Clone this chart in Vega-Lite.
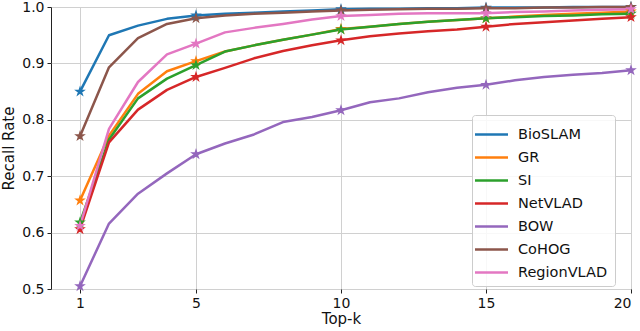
{
  "$schema": "https://vega.github.io/schema/vega-lite/v6.json",
  "width": 580,
  "height": 282,
  "autosize": {"type": "none"},
  "padding": {"left": 51, "top": 7, "right": 9, "bottom": 42},
  "background": "white",
  "config": {
    "font": "DejaVu Sans",
    "view": {"stroke": "#222", "strokeWidth": 1},
    "axis": {
      "gridColor": "#d0d0d0",
      "gridWidth": 1,
      "domain": false,
      "tickColor": "#222",
      "tickSize": 4,
      "labelPadding": 3,
      "labelFontSize": 14,
      "labelColor": "#111",
      "titleFontSize": 15,
      "titleFontWeight": "normal",
      "titleColor": "#111"
    }
  },
  "data": {
    "values": [
      {"k": 1, "BioSLAM": 0.850, "GR": 0.657, "SI": 0.618, "NetVLAD": 0.606, "BOW": 0.505, "CoHOG": 0.771, "RegionVLAD": 0.612},
      {"k": 2, "BioSLAM": 0.950, "GR": 0.772, "SI": 0.765, "NetVLAD": 0.760, "BOW": 0.616, "CoHOG": 0.893, "RegionVLAD": 0.784},
      {"k": 3, "BioSLAM": 0.967, "GR": 0.846, "SI": 0.838, "NetVLAD": 0.818, "BOW": 0.669, "CoHOG": 0.945, "RegionVLAD": 0.867},
      {"k": 4, "BioSLAM": 0.979, "GR": 0.886, "SI": 0.873, "NetVLAD": 0.853, "BOW": 0.705, "CoHOG": 0.970, "RegionVLAD": 0.916},
      {"k": 5, "BioSLAM": 0.985, "GR": 0.904, "SI": 0.897, "NetVLAD": 0.876, "BOW": 0.739, "CoHOG": 0.980, "RegionVLAD": 0.935},
      {"k": 6, "BioSLAM": 0.988, "GR": 0.921, "SI": 0.921, "NetVLAD": 0.892, "BOW": 0.758, "CoHOG": 0.985, "RegionVLAD": 0.955},
      {"k": 7, "BioSLAM": 0.990, "GR": 0.932, "SI": 0.932, "NetVLAD": 0.909, "BOW": 0.774, "CoHOG": 0.988, "RegionVLAD": 0.963},
      {"k": 8, "BioSLAM": 0.992, "GR": 0.942, "SI": 0.942, "NetVLAD": 0.922, "BOW": 0.796, "CoHOG": 0.990, "RegionVLAD": 0.970},
      {"k": 9, "BioSLAM": 0.994, "GR": 0.951, "SI": 0.951, "NetVLAD": 0.932, "BOW": 0.805, "CoHOG": 0.992, "RegionVLAD": 0.978},
      {"k": 10, "BioSLAM": 0.996, "GR": 0.961, "SI": 0.960, "NetVLAD": 0.941, "BOW": 0.817, "CoHOG": 0.994, "RegionVLAD": 0.984},
      {"k": 11, "BioSLAM": 0.997, "GR": 0.965, "SI": 0.965, "NetVLAD": 0.948, "BOW": 0.831, "CoHOG": 0.995, "RegionVLAD": 0.986},
      {"k": 12, "BioSLAM": 0.997, "GR": 0.970, "SI": 0.970, "NetVLAD": 0.953, "BOW": 0.838, "CoHOG": 0.996, "RegionVLAD": 0.988},
      {"k": 13, "BioSLAM": 0.998, "GR": 0.974, "SI": 0.974, "NetVLAD": 0.957, "BOW": 0.849, "CoHOG": 0.997, "RegionVLAD": 0.989},
      {"k": 14, "BioSLAM": 0.998, "GR": 0.977, "SI": 0.977, "NetVLAD": 0.960, "BOW": 0.857, "CoHOG": 0.997, "RegionVLAD": 0.989},
      {"k": 15, "BioSLAM": 0.999, "GR": 0.980, "SI": 0.980, "NetVLAD": 0.965, "BOW": 0.862, "CoHOG": 0.998, "RegionVLAD": 0.989},
      {"k": 16, "BioSLAM": 0.999, "GR": 0.983, "SI": 0.982, "NetVLAD": 0.970, "BOW": 0.870, "CoHOG": 0.998, "RegionVLAD": 0.991},
      {"k": 17, "BioSLAM": 0.999, "GR": 0.986, "SI": 0.984, "NetVLAD": 0.973, "BOW": 0.876, "CoHOG": 0.999, "RegionVLAD": 0.992},
      {"k": 18, "BioSLAM": 1.000, "GR": 0.988, "SI": 0.985, "NetVLAD": 0.976, "BOW": 0.880, "CoHOG": 0.999, "RegionVLAD": 0.994},
      {"k": 19, "BioSLAM": 1.000, "GR": 0.990, "SI": 0.987, "NetVLAD": 0.979, "BOW": 0.883, "CoHOG": 1.000, "RegionVLAD": 0.995},
      {"k": 20, "BioSLAM": 1.000, "GR": 0.992, "SI": 0.988, "NetVLAD": 0.982, "BOW": 0.888, "CoHOG": 1.000, "RegionVLAD": 0.996}
    ]
  },
  "transform": [
    {"fold": ["BioSLAM", "GR", "SI", "NetVLAD", "BOW", "CoHOG", "RegionVLAD"], "as": ["method", "recall"]}
  ],
  "encoding": {
    "x": {
      "field": "k", "type": "quantitative",
      "scale": {"domain": [0, 20], "nice": false, "zero": false},
      "axis": {"values": [1, 5, 10, 15, 20], "title": "Top-k", "titlePadding": 1}
    },
    "y": {
      "field": "recall", "type": "quantitative",
      "scale": {"domain": [0.5, 1.0], "nice": false, "zero": false},
      "axis": {"values": [0.5, 0.6, 0.7, 0.8, 0.9, 1.0], "format": ".1f", "title": "Recall Rate", "titlePadding": 5}
    },
    "color": {
      "field": "method", "type": "nominal",
      "scale": {
        "domain": ["BioSLAM", "GR", "SI", "NetVLAD", "BOW", "CoHOG", "RegionVLAD"],
        "range": ["#1f77b4", "#ff7f0e", "#2ca02c", "#d62728", "#9467bd", "#8c564b", "#e377c2"]
      },
      "legend": {
        "title": null,
        "orient": "none",
        "legendX": 421,
        "legendY": 108,
        "fillColor": "rgba(255,255,255,0.85)",
        "strokeColor": "#cccccc",
        "cornerRadius": 3,
        "padding": 7,
        "labelFontSize": 14.5,
        "labelColor": "#111",
        "labelOffset": 14,
        "symbolType": "M-1.5,0L1.5,0",
        "symbolSize": 484,
        "symbolStrokeWidth": 2.5,
        "rowPadding": 4,
        "offset": 0
      }
    }
  },
  "layer": [
    {
      "mark": {"type": "line", "strokeWidth": 2.5, "strokeCap": "round", "strokeJoin": "round"}
    },
    {
      "transform": [{"filter": {"field": "k", "oneOf": [1, 5, 10, 15, 20]}}],
      "mark": {
        "type": "point",
        "filled": true,
        "opacity": 1,
        "size": 55,
        "strokeWidth": 1.5,
        "shape": "M0,-1L0.2245,-0.309L0.951,-0.309L0.363,0.118L0.588,0.809L0,0.382L-0.588,0.809L-0.363,0.118L-0.951,-0.309L-0.2245,-0.309Z"
      },
      "encoding": {
        "stroke": {"field": "method", "type": "nominal", "legend": null, "scale": {"domain": ["BioSLAM", "GR", "SI", "NetVLAD", "BOW", "CoHOG", "RegionVLAD"], "range": ["#1f77b4", "#ff7f0e", "#2ca02c", "#d62728", "#9467bd", "#8c564b", "#e377c2"]}}
      }
    }
  ]
}
